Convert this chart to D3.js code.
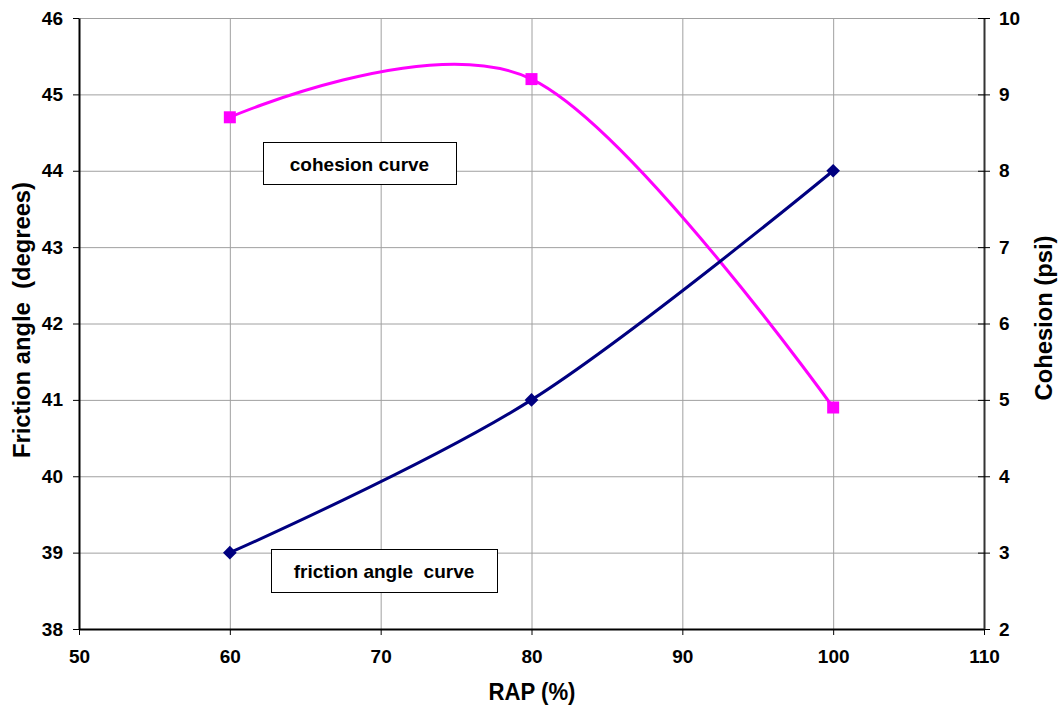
<!DOCTYPE html>
<html><head><meta charset="utf-8">
<script src="https://cdn.jsdelivr.net/npm/d3@7"></script>
<style>body{margin:0;background:#fff;} text{font-family:"Liberation Sans",Arial,sans-serif;font-weight:bold;fill:#000;}</style>
</head><body><svg id="c" width="1060" height="709"></svg>
<script>
const rap = [60, 80, 100];
const frictionAngle = [39, 41, 44];
const cohesion = [8.7, 9.2, 4.9];
const xTicks = [50, 60, 70, 80, 90, 100, 110];
const leftTicks = [38, 39, 40, 41, 42, 43, 44, 45, 46];
const rightTicks = [2, 3, 4, 5, 6, 7, 8, 9, 10];
const labels = ["cohesion curve", "friction angle  curve"];

const svg = d3.select("#c");
const L = 79, R = 984, T = 18, B = 629;
const x = d3.scaleLinear().domain([50, 110]).range([L, R]);
const yL = d3.scaleLinear().domain([38, 46]).range([B, T]);
const yR = d3.scaleLinear().domain([2, 10]).range([B, T]);

// grid
const g = svg.append("g");
g.selectAll(".vg").data(xTicks.slice(1, -1)).join("line")
  .attr("x1", d => x(d) + 0.5).attr("x2", d => x(d) + 0.5).attr("y1", T).attr("y2", B)
  .attr("stroke", "#a0a0a0").attr("stroke-width", 1);
g.selectAll(".hg").data(leftTicks.slice(1)).join("line")
  .attr("x1", L).attr("x2", R).attr("y1", d => yL(d) + 0.5).attr("y2", d => yL(d) + 0.5)
  .attr("stroke", "#a0a0a0").attr("stroke-width", 1);

// axes
const ax = svg.append("g").attr("transform", `translate(0,${B})`)
  .call(d3.axisBottom(x).tickValues(xTicks).tickSize(6).tickPadding(15).tickSizeOuter(0));
const ayl = svg.append("g").attr("transform", `translate(${L},0)`)
  .call(d3.axisLeft(yL).tickValues(leftTicks).tickSize(6).tickPadding(10).tickSizeOuter(0));
const ayr = svg.append("g").attr("transform", `translate(${R},0)`)
  .call(d3.axisRight(yR).tickValues(rightTicks).tickSize(6).tickPadding(9).tickSizeOuter(0));
ayr.selectAll(".tick line").attr("x1", -6);
[ax, ayl, ayr].forEach(a => {
  a.select(".domain").attr("stroke", "#000").attr("stroke-width", 2);
  a.selectAll(".tick line").attr("stroke", "#000");
  a.selectAll(".tick text").style("font-size", "19px").style("font-family", '"Liberation Sans",Arial,sans-serif').style("font-weight", "bold").attr("fill", "#000");
});
ayr.select(".domain").attr("stroke", "#333");

// curves
const lineL = d3.line().x((d, i) => x(rap[i])).y(d => yL(d)).curve(d3.curveCardinal.tension(0));
const lineR = d3.line().x((d, i) => x(rap[i])).y(d => yR(d)).curve(d3.curveCardinal.tension(0));
svg.append("path").attr("d", lineR(cohesion)).attr("fill", "none").attr("stroke", "#ff00ff").attr("stroke-width", 3);
svg.append("path").attr("d", lineL(frictionAngle)).attr("fill", "none").attr("stroke", "#000080").attr("stroke-width", 3);

svg.selectAll(".sq").data(cohesion).join("rect")
  .attr("x", (d, i) => x(rap[i]) - 6).attr("y", d => yR(d) - 6).attr("width", 12).attr("height", 12)
  .attr("fill", "#ff00ff");
svg.selectAll(".dm").data(frictionAngle).join("path")
  .attr("d", d3.symbol(d3.symbolDiamond2, 120))
  .attr("transform", (d, i) => `translate(${x(rap[i])},${yL(d)})`)
  .attr("fill", "#000080");

// label boxes
const boxes = [
  {t: labels[0], x0: 263, y0: 142, w: 193, h: 42},
  {t: labels[1], x0: 271, y0: 549, w: 226, h: 43}
];
boxes.forEach(b => {
  svg.append("rect").attr("x", b.x0 + 0.5).attr("y", b.y0 + 0.5).attr("width", b.w).attr("height", b.h)
    .attr("fill", "#fff").attr("stroke", "#000").attr("stroke-width", 1);
  svg.append("text").attr("x", b.x0 + b.w / 2).attr("y", b.y0 + b.h / 2 + 7.5)
    .attr("text-anchor", "middle").style("font-size", "19px").style("white-space", "pre").text(b.t);
});

// titles
svg.append("text").attr("x", 532).attr("y", 700).attr("text-anchor", "middle")
  .style("font-size", "23px").attr("textLength", 87).attr("lengthAdjust", "spacingAndGlyphs").text("RAP (%)");
svg.append("text").attr("transform", `translate(30,320) rotate(-90)`).attr("text-anchor", "middle")
  .style("font-size", "23px").style("white-space", "pre").attr("textLength", 276).attr("lengthAdjust", "spacingAndGlyphs")
  .text("Friction angle  (degrees)");
svg.append("text").attr("transform", `translate(1052,318) rotate(-90)`).attr("text-anchor", "middle")
  .style("font-size", "23px").attr("textLength", 165).attr("lengthAdjust", "spacingAndGlyphs").text("Cohesion (psi)");
</script></body></html>
